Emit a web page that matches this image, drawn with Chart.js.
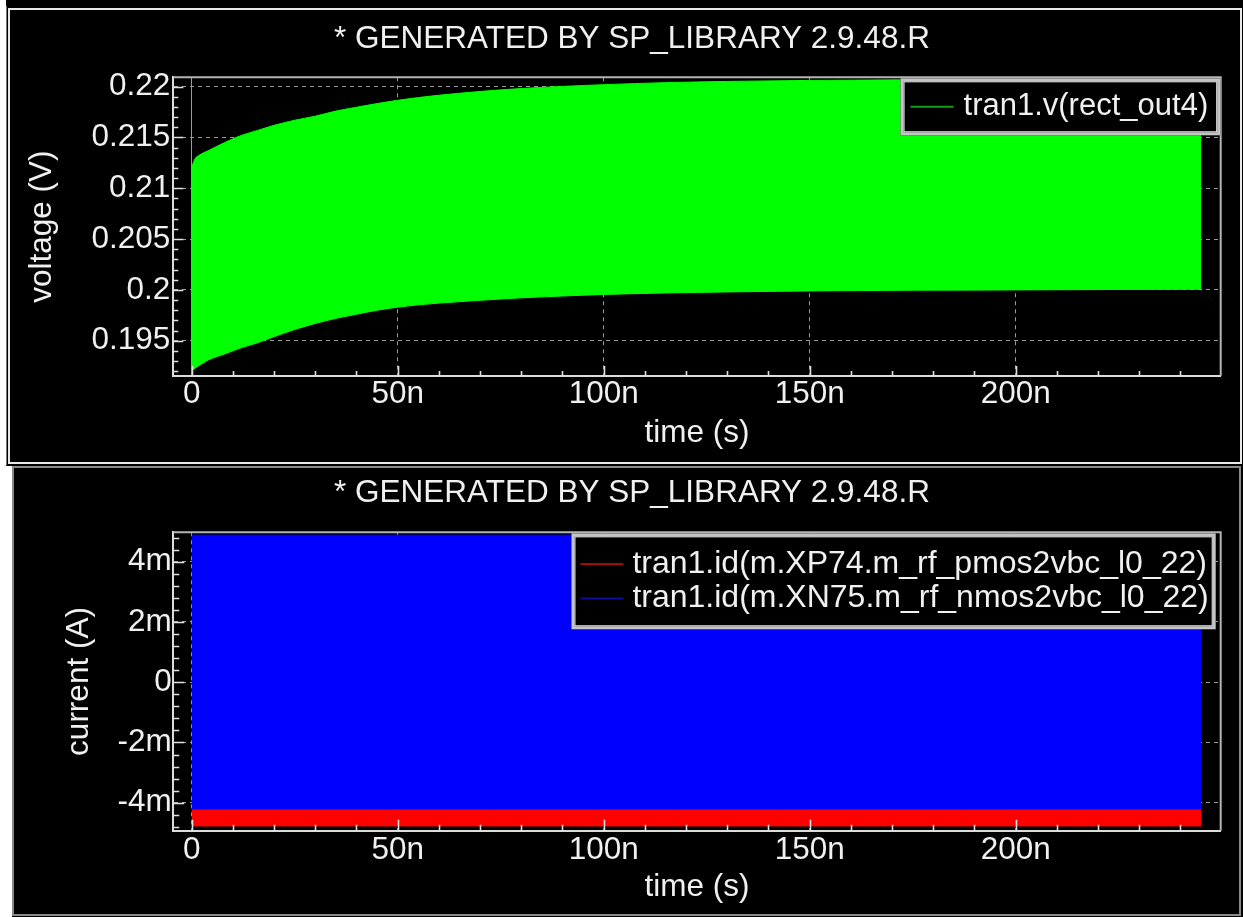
<!DOCTYPE html>
<html><head><meta charset="utf-8">
<script src="https://cdn.jsdelivr.net/npm/chart.js@4.4.1/dist/chart.umd.min.js"></script>
<style>
html,body{margin:0;padding:0;background:#fff;width:1243px;height:917px;overflow:hidden;}
.blk{position:absolute;background:#000;}
.frm{position:absolute;box-sizing:border-box;}
canvas{position:absolute;}
</style></head><body>
<div class="blk" style="left:6px;top:0;width:1237px;height:466px;"></div>
<div class="frm" style="left:6px;top:6px;width:1237px;height:459px;border-left:1px solid #777;"></div>
<div class="frm" style="left:8px;top:8px;width:1234px;height:456px;border:2px solid #e8e8e8;"></div>
<div class="blk" style="left:12px;top:465px;width:1231px;height:452px;"></div>
<div class="frm" style="left:12px;top:466px;width:1229px;height:450px;border:2px solid #8a8a8a;"></div>
<canvas id="c1" width="1229" height="450" style="left:10px;top:10px"></canvas>
<canvas id="c2" width="1224" height="446" style="left:14px;top:468px"></canvas>
<script>
// ---------- data (time in ns, voltage in V, current in mA) ----------
const chartTitle = '* GENERATED BY SP_LIBRARY 2.9.48.R';
const timeTickValues = [0, 50, 100, 150, 200];
const timeTickLabels = ['0', '50n', '100n', '150n', '200n'];
const voltTickValues = [0.195, 0.2, 0.205, 0.21, 0.215, 0.22];
const voltTickLabels = ['0.195', '0.2', '0.205', '0.21', '0.215', '0.22'];
const currentTickValues = [-4, -2, 0, 2, 4];
const currentTickLabels = ['-4m', '-2m', '0', '2m', '4m'];

const voltSeriesLabel = 'tran1.v(rect_out4)';
const voltTimeNs = [0, 0.8, 2, 4, 8, 12, 16, 20, 25, 30, 35, 40, 45, 50, 55, 60, 70, 80, 90, 100, 115, 130, 150, 175, 200, 225, 245];
const voltUpper  = [0.2121, 0.2129, 0.2133, 0.2137, 0.2145, 0.2152, 0.2157, 0.2162, 0.2167, 0.2171, 0.2176, 0.21798, 0.21834, 0.21866, 0.21893, 0.21916, 0.21953, 0.21982, 0.22003, 0.2202, 0.2204, 0.22052, 0.22062, 0.22068, 0.2207, 0.2207, 0.2207];
const voltLower  = [0.1920, 0.1923, 0.1926, 0.1931, 0.1937, 0.1943, 0.1948, 0.1954, 0.1961, 0.1967, 0.1972, 0.1976, 0.1980, 0.1983, 0.19853, 0.1987, 0.19898, 0.19922, 0.1994, 0.19955, 0.1997, 0.1998, 0.1999, 0.19997, 0.2000, 0.20004, 0.20006];

const pmosLabel = 'tran1.id(m.XP74.m_rf_pmos2vbc_l0_22)';
const nmosLabel = 'tran1.id(m.XN75.m_rf_nmos2vbc_l0_22)';
const currentTimeNs = [0, 50, 100, 150, 200, 245];
const pmosMax = [-4.24, -4.24, -4.24, -4.24, -4.24, -4.24];
const pmosMin = [-4.77, -4.77, -4.77, -4.77, -4.77, -4.77];
const nmosMax = [4.88, 4.88, 4.88, 4.88, 4.88, 4.88];
const nmosMin = [-4.24, -4.24, -4.24, -4.24, -4.24, -4.24];

// ---------- styling ----------
const FONT = "'Liberation Sans', Arial, Helvetica, sans-serif";
const FS = 31.5;
const TXT = '#f0f0f0';

function pts(xs, ys) { return xs.map((x, i) => ({x: x, y: ys[i]})); }
function buildTicks(min, max, step, majors) {
  const out = [];
  const s = Math.ceil(min / step - 1e-9), e = Math.floor(max / step + 1e-9);
  for (let k = s; k <= e; k++) {
    const v = +(k * step).toPrecision(12);
    out.push({value: v, isMajor: majors.some(m => Math.abs(m - v) < step * 1e-3)});
  }
  return out;
}
function labelFor(v, vals, labs, step) {
  for (let i = 0; i < vals.length; i++) if (Math.abs(vals[i] - v) < step * 1e-3) return labs[i];
  return '';
}

function decorPlugin(majorLen, minorLen) {
  return {
    id: 'decor',
    afterDraw(chart) {
      const ctx = chart.ctx, a = chart.chartArea, xs = chart.scales.x, ys = chart.scales.y;
      ctx.save();
      ctx.strokeStyle = '#b4b4b4'; ctx.lineWidth = 2;
      ctx.beginPath(); ctx.moveTo(a.left, a.top); ctx.lineTo(a.right, a.top); ctx.lineTo(a.right, a.bottom); ctx.stroke();
      ctx.strokeStyle = '#e0e0e0'; ctx.lineWidth = 1.6;
      ctx.beginPath();
      xs.ticks.forEach(t => { const p = Math.round(xs.getPixelForValue(t.value)) + 0.5; ctx.moveTo(p, a.bottom); ctx.lineTo(p, a.bottom - (t.isMajor ? majorLen : minorLen)); });
      ys.ticks.forEach(t => { const p = Math.round(ys.getPixelForValue(t.value)) + 0.5; ctx.moveTo(a.left, p); ctx.lineTo(a.left + (t.isMajor ? majorLen : minorLen), p); });
      ctx.stroke();
      ctx.restore();
    }
  };
}
function legendPlugin(o) {
  return {
    id: 'boxLegend',
    afterDraw(chart) {
      const ctx = chart.ctx, a = chart.chartArea;
      ctx.save();
      ctx.font = o.fontSize + 'px ' + FONT;
      const tw = Math.max(...o.items.map(it => ctx.measureText(it.text).width));
      const w = o.textOffset + tw + o.padRight;
      const h = o.padTop * 2 + o.rowH * o.items.length;
      const x = a.right - o.rightInset - w, y = a.top + o.topInset;
      ctx.fillStyle = '#000'; ctx.fillRect(x, y, w, h);
      ctx.strokeStyle = '#c4c4c4'; ctx.lineWidth = 3; ctx.strokeRect(x + 1.5, y + 1.5, w - 3, h - 3);
      ctx.strokeStyle = '#f4f4f4'; ctx.lineWidth = 1; ctx.strokeRect(x + 3.5, y + 3.5, w - 7, h - 7);
      o.items.forEach((it, i) => {
        const cy = y + o.padTop + o.rowH * (i + 0.5);
        ctx.strokeStyle = it.color; ctx.lineWidth = 2;
        ctx.beginPath(); ctx.moveTo(x + o.sampleX, cy); ctx.lineTo(x + o.sampleX + o.sampleLen, cy); ctx.stroke();
        ctx.fillStyle = TXT; ctx.textBaseline = 'middle'; ctx.textAlign = 'left';
        ctx.fillText(it.text, x + o.textOffset, cy);
      });
      ctx.restore();
    }
  };
}

function axisX(min, max, step, tickPad, height, solidZero) {
  return {
    type: 'linear', min: min, max: max,
    afterBuildTicks: s => { s.ticks = buildTicks(min, max, step, timeTickValues); },
    afterFit: s => { s.height = height; },
    ticks: { autoSkip: false, maxRotation: 0, color: TXT, padding: tickPad,
      font: {family: FONT, size: FS},
      callback: v => labelFor(v, timeTickValues, timeTickLabels, step) },
    grid: { drawTicks: false, lineWidth: 1,
      color: c => (c.tick && c.tick.isMajor) ? '#9c9c9c' : 'rgba(0,0,0,0)' },
    border: { display: true, color: '#dcdcdc', width: 2,
      dash: c => (solidZero && c.tick && c.tick.value === 0) ? [] : [4, 4] },
    title: { display: true, text: 'time (s)', color: TXT, font: {family: FONT, size: FS}, padding: {top: 0, bottom: 8.1} }
  };
}
function axisY(min, max, step, majors, labels, title, titlePad, tickPad, width) {
  return {
    type: 'linear', min: min, max: max,
    afterBuildTicks: s => { s.ticks = buildTicks(min, max, step, majors); },
    afterFit: s => { s.width = width; },
    ticks: { autoSkip: false, color: TXT, padding: tickPad,
      font: {family: FONT, size: FS},
      callback: v => labelFor(v, majors, labels, step) },
    grid: { drawTicks: false, lineWidth: 1,
      color: c => (c.tick && c.tick.isMajor) ? '#9c9c9c' : 'rgba(0,0,0,0)' },
    border: { display: true, color: '#dcdcdc', width: 2, dash: [4, 4] },
    title: { display: true, text: title, color: TXT, font: {family: FONT, size: FS}, padding: {top: titlePad, bottom: 0} }
  };
}
function titleOpt(pt, pb) {
  return { display: true, text: chartTitle, color: TXT, font: {family: FONT, size: FS, weight: 'normal'}, padding: {top: pt, bottom: pb} };
}

// ---------- top chart: voltage ----------
new Chart(document.getElementById('c1'), {
  type: 'line',
  data: { datasets: [
    { label: voltSeriesLabel, data: pts(voltTimeNs, voltUpper), borderColor: '#00ff00', backgroundColor: '#00ff00',
      borderWidth: 1, fill: '+1', pointRadius: 0, cubicInterpolationMode: 'monotone' },
    { label: '', data: pts(voltTimeNs, voltLower), borderColor: '#00ff00', backgroundColor: '#00ff00',
      borderWidth: 1, fill: false, pointRadius: 0, cubicInterpolationMode: 'monotone' }
  ]},
  options: {
    responsive: false, animation: false, devicePixelRatio: 1, events: [],
    layout: { padding: {left: 33.3, right: 18.3, top: 0, bottom: 0} },
    plugins: { legend: {display: false}, tooltip: {enabled: false}, title: titleOpt(10.1, 19.4) },
    scales: {
      x: axisX(-4.466, 249.76, 10, -1, 84, true),
      y: axisY(0.191525, 0.220925, 0.001, voltTickValues, voltTickLabels, 'voltage (V)', -19.7, 3, 130)
    }
  },
  plugins: [decorPlugin(10, 5), legendPlugin({
    items: [{text: voltSeriesLabel, color: '#14a014'}], fontSize: 31,
    rightInset: 0.5, topInset: 1, padTop: 0, rowH: 57, sampleX: 10, sampleLen: 43, textOffset: 63, padRight: 12 })]
});

// ---------- bottom chart: current ----------
new Chart(document.getElementById('c2'), {
  type: 'line',
  data: { datasets: [
    { label: pmosLabel, data: pts(currentTimeNs, pmosMax), borderColor: '#ff0000', backgroundColor: '#ff0000',
      borderWidth: 1, fill: '+1', pointRadius: 0 },
    { label: '', data: pts(currentTimeNs, pmosMin), borderColor: '#ff0000', backgroundColor: '#ff0000',
      borderWidth: 1, fill: false, pointRadius: 0 },
    { label: nmosLabel, data: pts(currentTimeNs, nmosMax), borderColor: '#0000ff', backgroundColor: '#0000ff',
      borderWidth: 1, fill: '+1', pointRadius: 0 },
    { label: '', data: pts(currentTimeNs, nmosMin), borderColor: '#0000ff', backgroundColor: '#0000ff',
      borderWidth: 1, fill: false, pointRadius: 0 }
  ]},
  options: {
    responsive: false, animation: false, devicePixelRatio: 1, events: [],
    layout: { padding: {left: 29.3, right: 17.3, top: 0, bottom: 0} },
    plugins: { legend: {display: false}, tooltip: {enabled: false}, title: titleOpt(6.1, 20.4) },
    scales: {
      x: axisX(-4.466, 249.76, 10, 0.4, 83.3, false),
      y: axisY(-4.929, 4.976, 0.4, currentTickValues, currentTickLabels, 'current (A)', 16.8, 1.5, 130)
    }
  },
  plugins: [decorPlugin(11, 6), legendPlugin({
    items: [{text: pmosLabel, color: '#a00c0c'}, {text: nmosLabel, color: '#0c0ca0'}], fontSize: 32,
    rightInset: 5, topInset: 1, padTop: 13.5, rowH: 34.5, sampleX: 9, sampleLen: 43, textOffset: 61, padRight: 7 })]
});
</script>
</body></html>
